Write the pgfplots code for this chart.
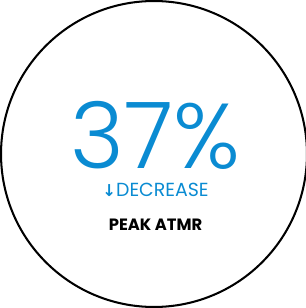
\documentclass[border=0pt]{standalone}
\usepackage{pgfplots}
\pgfplotsset{compat=1.18}
\usepackage{fontspec}
\setmainfont{Poppins}
\newfontfamily\light{Poppins Light}
\newfontfamily\sym{DejaVu Sans}
\definecolor{blueA}{HTML}{0A8BD2}
\begin{document}
\begin{tikzpicture}[x=1pt,y=1pt]
\begin{axis}[
  scale only axis, width=304pt, height=308pt,
  xmin=0, xmax=304, ymin=0, ymax=308,
  axis lines=none, clip=true,
]
\draw[black, line width=2pt] (axis cs:155.5,151.5) circle[radius=149.5];
\node[blueA, font=\light\fontsize{90}{90}\selectfont, anchor=base, inner sep=0pt] at (axis cs:157,137) {37\%};
\node[blueA, font=\fontsize{18.5}{18.5}\selectfont, anchor=base, inner sep=0pt] at (axis cs:157,110) {{\sym\bfseries\fontsize{16}{16}\selectfont↓}DECREASE};
\node[black, font=\bfseries\fontsize{16}{16}\selectfont, anchor=base, inner sep=0pt] at (axis cs:157,76.5) {PEAK ATMR};
\end{axis}
\end{tikzpicture}
\end{document}
